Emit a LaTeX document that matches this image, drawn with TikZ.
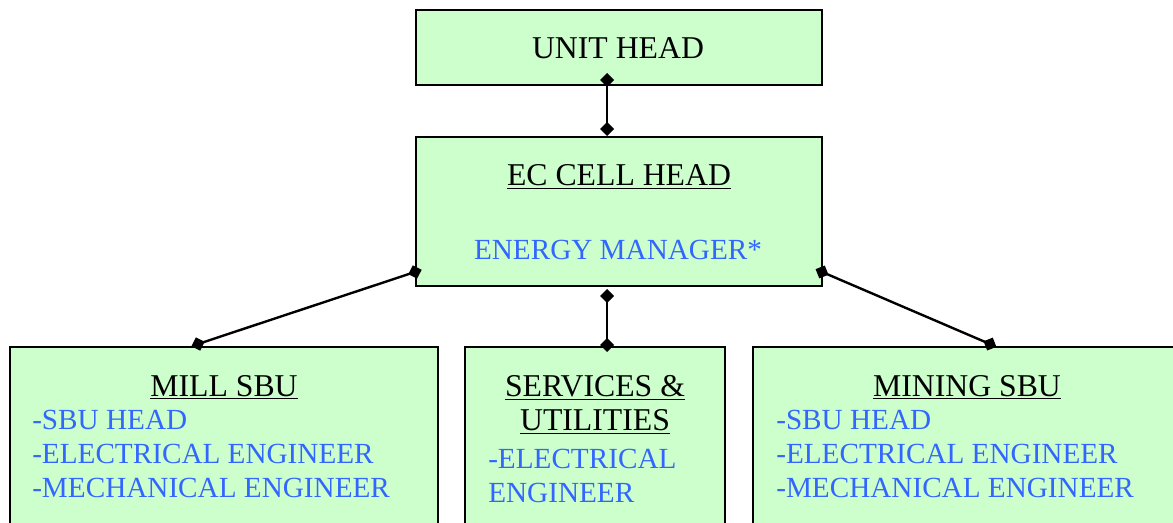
\documentclass[tikz,border=0pt]{standalone}
\usepackage{fontspec}
\setmainfont{Liberation Serif}
\usetikzlibrary{arrows.meta,calc,fit}
\definecolor{boxgreen}{HTML}{CCFFCC}
\definecolor{roleblue}{HTML}{3366FF}
\begin{document}
\begin{tikzpicture}[x=0.75pt,y=-0.75pt,
 box/.style={draw=black,line width=2pt,fill=boxgreen,inner sep=0pt,outer sep=0pt},
 title/.style={font=\fontsize{23.8}{28}\selectfont,inner sep=0pt,anchor=base},
 role/.style={font=\fontsize{21.9}{25.5}\selectfont,text=roleblue,inner sep=0pt,anchor=base west},
 rolec/.style={role,anchor=base},
 link/.style={line width=1.8pt,{Diamond[length=10.5pt,width=10.5pt]}-{Diamond[length=10.5pt,width=10.5pt]}}]
\useasboundingbox (0,0) rectangle (1173,523);
\clip (0,0) rectangle (1173,523);
% boxes
\node[box,fit={(416,10) (822,85)}] (unit) {};
\node[box,fit={(416,137) (822,286)}] (ec) {};
\node[box,fit={(10,347) (438,560)}] (mill) {};
\node[box,fit={(465,347) (725,560)}] (svc) {};
\node[box,fit={(753,347) (1190,560)}] (mine) {};
% texts
\node[title] (unitT) at (618,58.5) {UNIT HEAD};
\node[title] (ecT) at (619,186) {\underline{EC CELL HEAD}};
\node[rolec] (emT) at (618,260) {ENERGY MANAGER*};
\node[title] (millT) at (224,396.5) {\underline{MILL SBU}};
\node[role] (mill1) at (32,429.5) {-SBU HEAD};
\node[role] (mill2) at (32,463.5) {-ELECTRICAL ENGINEER};
\node[role] (mill3) at (32,497) {-MECHANICAL ENGINEER};
\node[title] (svcT1) at (595,397) {\underline{SERVICES \&}};
\node[title] (svcT2) at (595,431) {\underline{UTILITIES}};
\node[role] (svc1) at (488,468) {-ELECTRICAL};
\node[role] (svc2) at (488,502) {ENGINEER};
\node[title] (mineT) at (967,396.5) {\underline{MINING SBU}};
\node[role] (mine1) at (776,429.5) {-SBU HEAD};
\node[role] (mine2) at (776,463.5) {-ELECTRICAL ENGINEER};
\node[role] (mine3) at (776,497) {-MECHANICAL ENGINEER};
% connectors
\coordinate (uA) at ($(unit.south)+(-12,-12)$);
\coordinate (eA) at ($(ec.north)+(-12,-1)$);
\coordinate (eB) at ($(ec.south)+(-12,3)$);
\coordinate (sA) at ($(svc.north)+(12,5)$);
\coordinate (eL) at ($(ec.south west)+(5.6,-16.2)$);
\coordinate (mA) at ($(mill.north west)+(181.4,-0.8)$);
\coordinate (eR) at ($(ec.south east)+(-6.4,-16.8)$);
\coordinate (nA) at ($(mine.north west)+(243.4,-0.2)$);
\draw[link] (uA) -- (eA);
\draw[link] (eB) -- (sA);
\draw[link] (eL) -- (mA);
\draw[link] (eR) -- (nA);
\end{tikzpicture}
\end{document}
